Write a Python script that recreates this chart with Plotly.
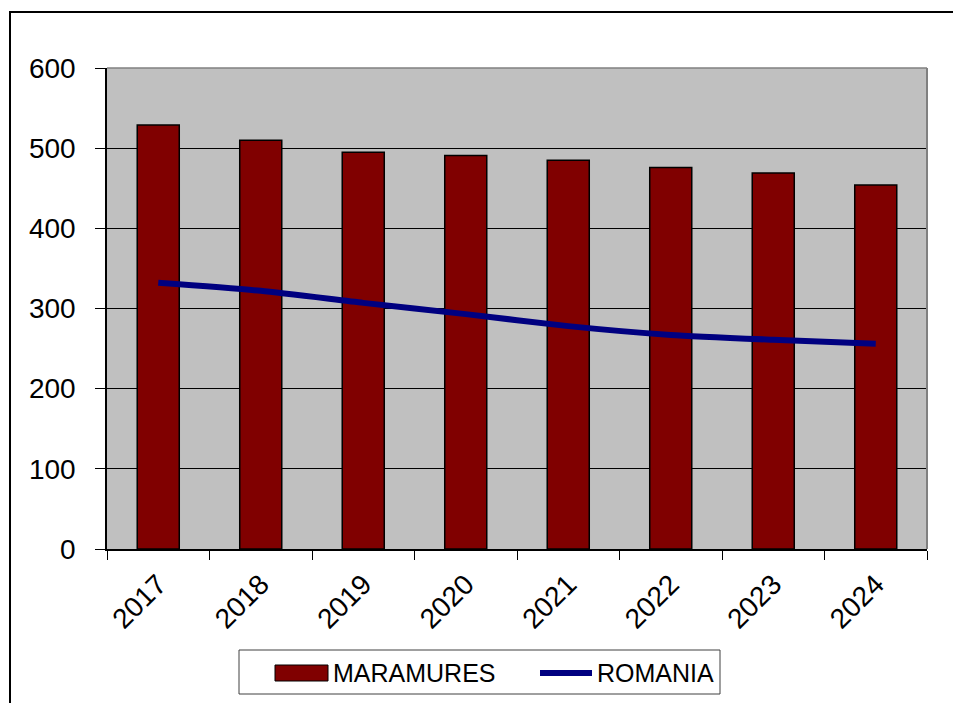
import plotly.graph_objects as go

years = ["2017", "2018", "2019", "2020", "2021", "2022", "2023", "2024"]
maramures = [529, 510, 495, 491, 485, 476, 469, 454]
romania = [332, 322, 307, 293, 278, 267, 261, 256]
y_ticks = [0, 100, 200, 300, 400, 500, 600]

FONT = "Liberation Sans, Arial, sans-serif"
OFF = 8  # page body margin

fig = go.Figure()
fig.add_trace(go.Bar(
    x=years, y=maramures, name="MARAMURES",
    marker=dict(color="#800000", line=dict(color="black", width=1.5)),
    width=0.41, showlegend=False,
))
fig.add_trace(go.Scatter(
    x=years, y=romania, name="ROMANIA", mode="lines",
    line=dict(color="#000080", width=6, shape="spline", smoothing=0.6),
    showlegend=False,
))

# plot area in screen coordinates
L, T, R, B = 107, 68, 927, 549
W, H = R - L, B - T

def px(x):
    return (x - L) / W

def py(y):
    return (B - y) / H

shapes = [
    dict(type="rect", xref="paper", yref="paper",
         x0=px(10), x1=px(990), y0=py(12), y1=py(730),
         line=dict(color="black", width=2), fillcolor="rgba(0,0,0,0)", layer="below"),
    dict(type="line", xref="paper", yref="paper", x0=1, x1=1, y0=0, y1=1,
         line=dict(color="#808080", width=2)),
    dict(type="line", xref="paper", yref="paper", x0=0, x1=1, y0=1, y1=1,
         line=dict(color="#808080", width=1.5)),
    dict(type="rect", xref="paper", yref="paper",
         x0=px(239), x1=px(720), y0=py(650), y1=py(694),
         line=dict(color="#404040", width=1), fillcolor="white"),
    dict(type="rect", xref="paper", yref="paper",
         x0=px(275), x1=px(328), y0=py(665), y1=py(681),
         line=dict(color="black", width=1), fillcolor="#800000"),
    dict(type="line", xref="paper", yref="paper",
         x0=px(540), x1=px(592), y0=py(673), y1=py(673),
         line=dict(color="#000080", width=6)),
]

annotations = [
    dict(text="MARAMURES", xref="paper", yref="paper", x=px(331), y=py(673),
         xanchor="left", yanchor="middle", showarrow=False,
         font=dict(family=FONT, size=25, color="black")),
    dict(text="ROMANIA", xref="paper", yref="paper", x=px(595), y=py(673),
         xanchor="left", yanchor="middle", showarrow=False,
         font=dict(family=FONT, size=25, color="black")),
]

fig.update_layout(
    width=961, height=703,
    margin=dict(l=L - OFF, r=961 - R + OFF, t=T - OFF, b=703 - B + OFF),
    paper_bgcolor="white", plot_bgcolor="#C0C0C0",
    font=dict(family=FONT, size=28, color="black"),
    shapes=shapes, annotations=annotations,
    showlegend=False,
)
fig.update_xaxes(
    type="category", tickangle=-45, ticks="outside", tickson="boundaries",
    ticklen=9, tickcolor="black", tickwidth=1,
    showline=True, linecolor="black", linewidth=1.5,
    showgrid=False, tickfont=dict(size=28), range=[-0.5, 7.5],
    ticklabelstandoff=6,
)
fig.update_yaxes(
    range=[0, 600], tickvals=y_ticks, ticks="outside", ticklen=10,
    tickcolor="black", tickwidth=1, showline=True, linecolor="black", linewidth=1.5,
    showgrid=True, gridcolor="black", gridwidth=1, zeroline=False,
    tickfont=dict(size=28), ticklabelstandoff=14,
)

fig.write_html("out.html")
